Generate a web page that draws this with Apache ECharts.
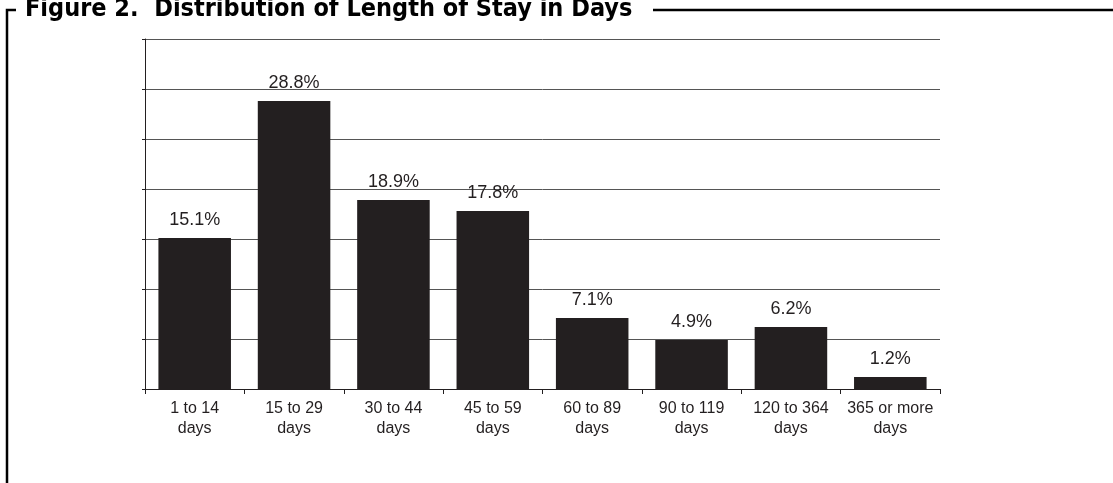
<!DOCTYPE html>
<html><head><meta charset="utf-8">
<script src="https://cdn.jsdelivr.net/npm/echarts@6/dist/echarts.min.js"></script>
<style>html,body{margin:0;padding:0;background:#fff}#c{width:1113px;height:483px}</style>
</head><body><div id="c"></div>
<script>
const categories = ['1 to 14\ndays','15 to 29\ndays','30 to 44\ndays','45 to 59\ndays','60 to 89\ndays','90 to 119\ndays','120 to 364\ndays','365 or more\ndays'];
const values = [15.1, 28.8, 18.9, 17.8, 7.1, 4.9, 6.2, 1.2];
const titleText = 'Figure 2.  Distribution of Length of Stay in Days';
const chart = echarts.init(document.getElementById('c'));
chart.setOption({
  animation: false,
  backgroundColor: '#fff',
  title: {
    text: titleText, left: 20, top: -8,
    textStyle: {fontFamily: '"DejaVu Sans Condensed",sans-serif', fontWeight: 'bold', fontSize: 25, color: '#000'}
  },
  graphic: [
    {type: 'polyline', shape: {points: [[7, 483], [7, 10], [16, 10]]}, style: {stroke: '#000', lineWidth: 2.5, fill: null}},
    {type: 'line', shape: {x1: 653, y1: 10, x2: 1113, y2: 10}, style: {stroke: '#000', lineWidth: 2.5}}
  ],
  grid: {left: 145, right: 173, top: 39, bottom: 94},
  xAxis: {
    type: 'category', data: categories,
    axisLine: {lineStyle: {color: '#231f20', width: 1}},
    axisTick: {show: true, interval: 0, length: 5, lineStyle: {color: '#231f20'}},
    axisLabel: {interval: 0, color: '#231f20', fontFamily: 'Liberation Sans, Arial, sans-serif', fontSize: 16, lineHeight: 20, margin: 10}
  },
  yAxis: {
    type: 'value', min: 0, max: 35, interval: 5,
    axisLine: {show: true, lineStyle: {color: '#231f20', width: 1}},
    axisTick: {show: true, length: 3, lineStyle: {color: '#231f20'}},
    axisLabel: {show: false},
    splitLine: {lineStyle: {color: '#555', width: 1}}
  },
  series: [{
    type: 'bar', data: values, barWidth: '73%',
    itemStyle: {color: '#231f20'},
    label: {show: true, position: 'top', distance: 9, formatter: p => p.value.toFixed(1) + '%',
      color: '#231f20', fontFamily: 'Liberation Sans, Arial, sans-serif', fontSize: 18}
  }]
});
</script></body></html>
